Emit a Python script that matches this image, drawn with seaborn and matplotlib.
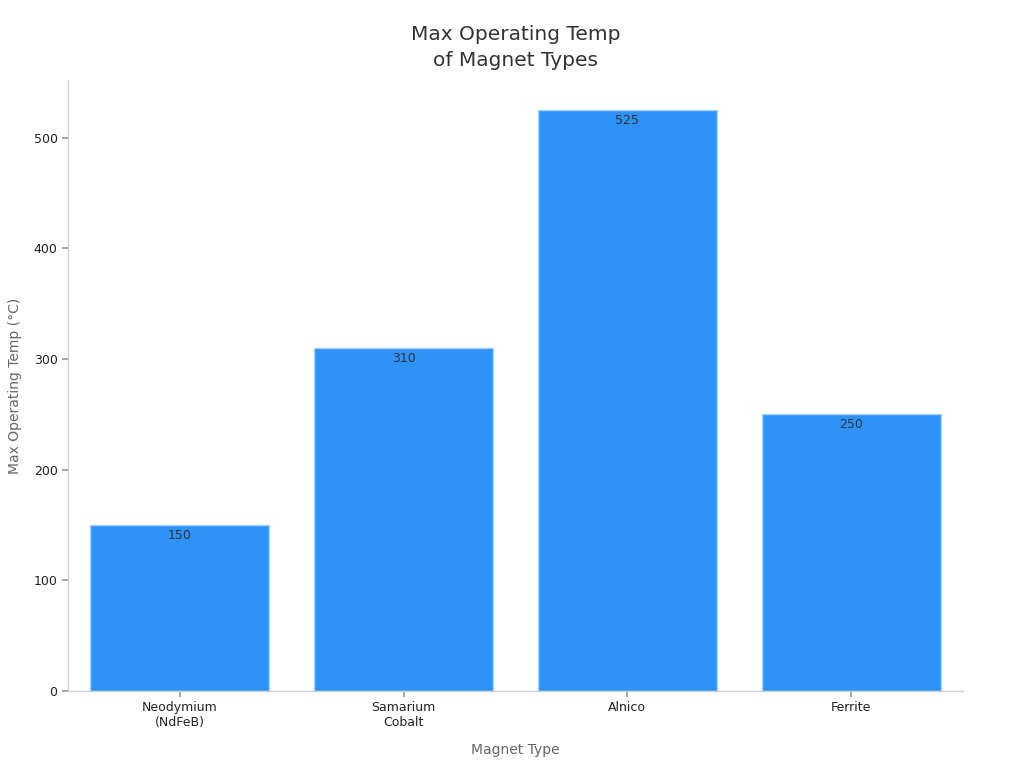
import pandas as pd
import matplotlib
matplotlib.use("Agg")
import matplotlib.pyplot as plt
import seaborn as sns

# Dados
tipos = ["Neodymium\n(NdFeB)", "Samarium\nCobalt", "Alnico", "Ferrite"]
temperaturas = [150, 310, 525, 250]

COR_BARRA = "#2E93F9"
COR_BORDA = "#A8D0F8"
COR_TEXTO = "#333333"
COR_EIXO = "#666666"

df = pd.DataFrame({"tipo": tipos, "temp": temperaturas})

sns.set_theme(style="white")
plt.rcParams["font.family"] = ["DejaVu Sans"]

fig = plt.figure(figsize=(10.24, 7.68), dpi=100)
ax = fig.add_axes([68 / 1024, 1 - 691 / 768, (963 - 68) / 1024, (691 - 80) / 768])

sns.barplot(data=df, x="tipo", y="temp", ax=ax, color=COR_BARRA, saturation=1,
            width=0.8, edgecolor=COR_BORDA, linewidth=1)

for p, v in zip(ax.patches, temperaturas):
    ax.annotate(f"{v}", (p.get_x() + p.get_width() / 2, v), xytext=(0, -3),
                textcoords="offset points", ha="center", va="top",
                fontsize=9, color=COR_TEXTO)

ax.set_xlim(-0.5, 3.5)
ax.set_ylim(0, 552)
ax.set_yticks([0, 100, 200, 300, 400, 500])

ax.set_title("Max Operating Temp\nof Magnet Types", fontsize=14.5, color=COR_TEXTO,
             pad=10, linespacing=1.45)
ax.set_xlabel("Magnet Type", fontsize=10, color=COR_EIXO, labelpad=10)
ax.set_ylabel("Max Operating Temp (°C)", fontsize=10, color=COR_EIXO, labelpad=8)

ax.tick_params(axis="both", labelsize=9, labelcolor="#222222", length=4, color="#999999",
               bottom=True, left=True)
for lado in ["top", "right"]:
    ax.spines[lado].set_visible(False)
for lado in ["left", "bottom"]:
    ax.spines[lado].set_color("#D0D0D0")
    ax.spines[lado].set_linewidth(1)

plt.savefig("out.png", dpi=100)
